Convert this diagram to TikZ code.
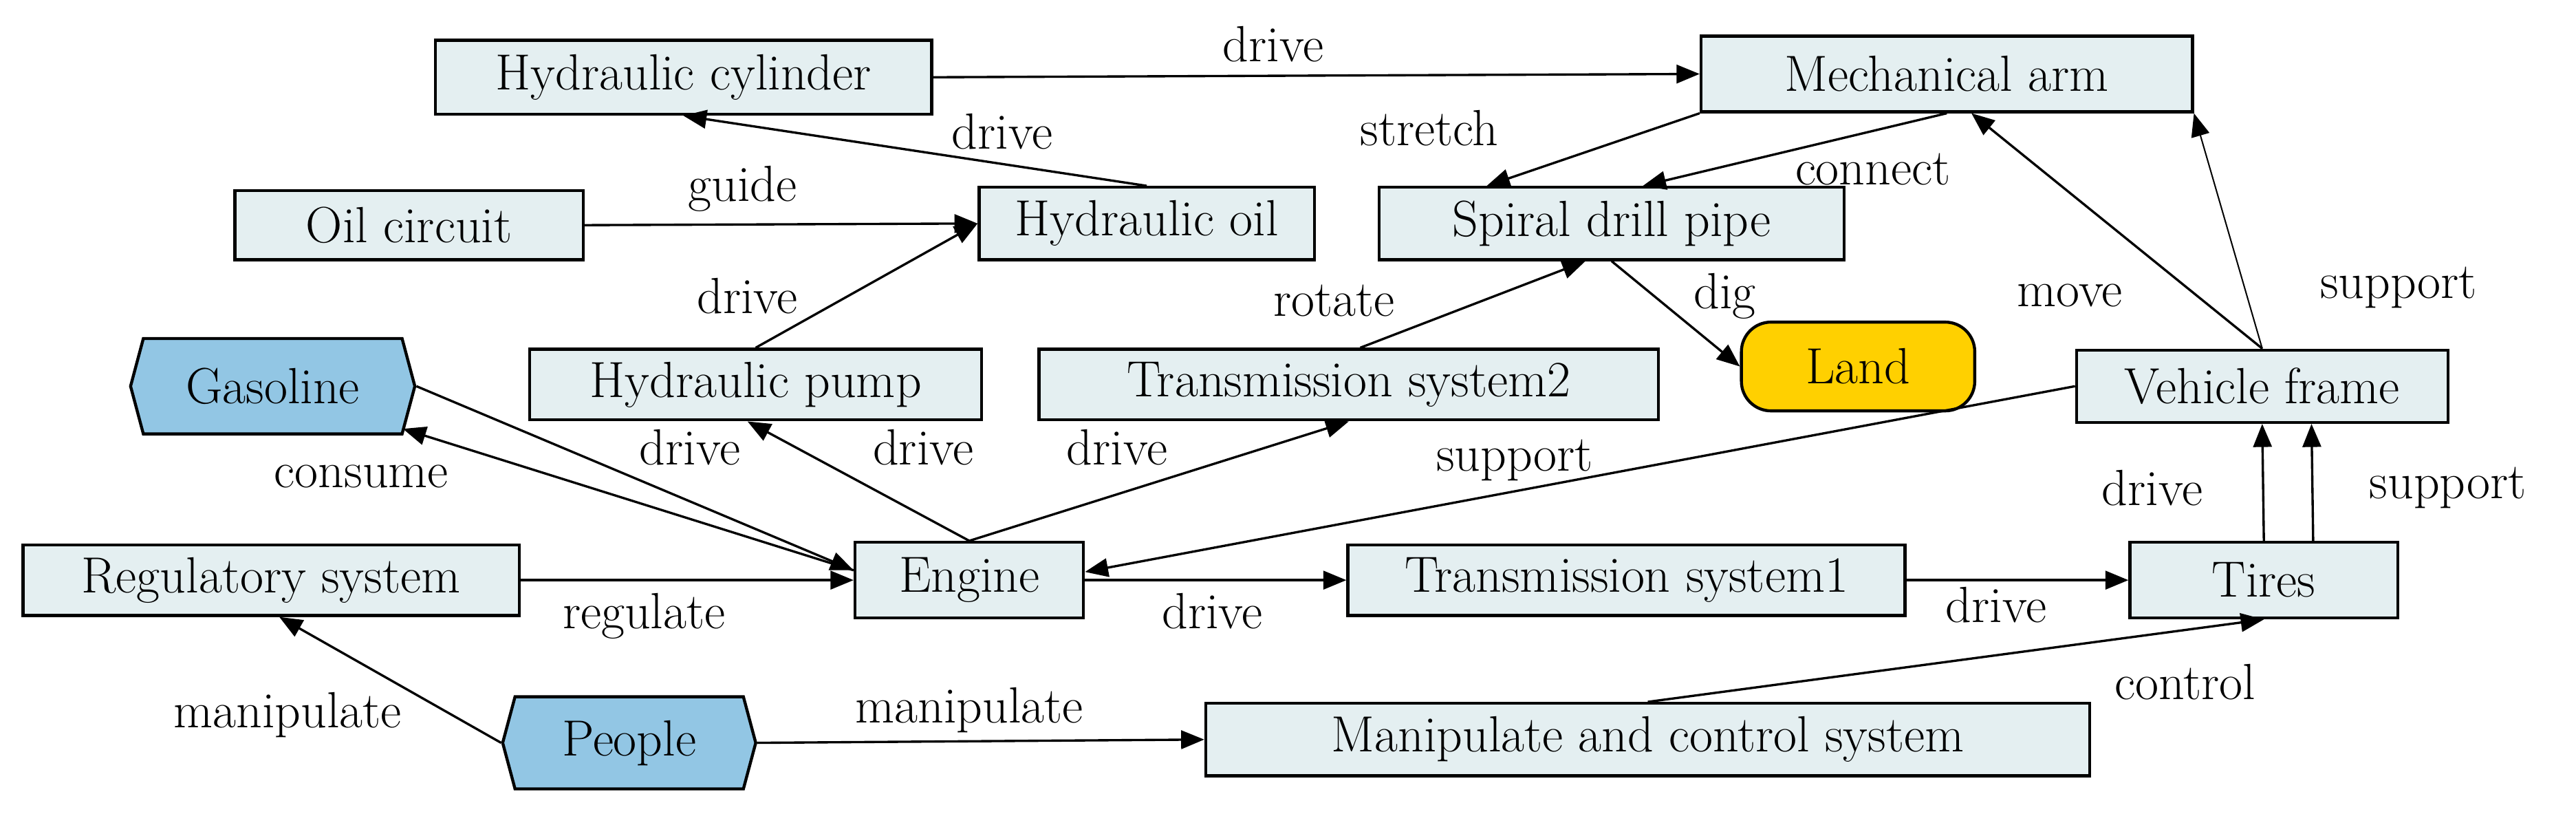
\documentclass[tikz,border=0pt]{standalone}
\usetikzlibrary{arrows.meta,shapes.symbols}
\definecolor{boxfill}{HTML}{E4EFF1}
\definecolor{hexfill}{HTML}{92C6E4}
\definecolor{landfill}{HTML}{FFD000}
\begin{document}
\begin{tikzpicture}[x=0.025cm,y=-0.025cm,
  every node/.style={font=\fontsize{22}{24}\selectfont, inner sep=0pt},
  box/.style={draw, fill=boxfill, line width=1.3pt},
  hex/.style={draw, fill=hexfill, line width=1.3pt, signal, signal to=east and west, signal pointer angle=150},
  lbl/.style={},
  arr/.style={line width=1pt, -{Triangle[length=10pt,width=8pt]}},
  thinarr/.style={line width=0.6pt, -{Triangle[length=10pt,width=8pt]}}]
\useasboundingbox (0,0) rectangle (1568,495);
\node[box, minimum width=7.55cm, minimum height=1.125cm] (cyl) at (416,47) {Hydraulic cylinder};
\node[box, minimum width=7.475cm, minimum height=1.15cm] (arm) at (1185,45) {Mechanical arm};
\node[box, minimum width=5.3cm, minimum height=1.05cm] (oilc) at (249,137) {Oil circuit};
\node[box, minimum width=5.1cm, minimum height=1.1cm] (oil) at (698,136) {Hydraulic oil};
\node[box, minimum width=7.075cm, minimum height=1.1cm] (pipe) at (981,136) {Spiral drill pipe};
\node[hex, minimum width=4.325cm, minimum height=1.45cm] (gas) at (166,235) {Gasoline};
\node[box, minimum width=6.875cm, minimum height=1.075cm] (pump) at (460,234) {Hydraulic pump};
\node[box, minimum width=9.425cm, minimum height=1.075cm] (ts2) at (821,234) {Transmission system2};
\node[draw, fill=landfill, line width=1.3pt, rounded corners=0.45cm, minimum width=3.55cm, minimum height=1.35cm] (land) at (1131,223) {Land};
\node[box, minimum width=5.65cm, minimum height=1.1cm] (frame) at (1377,235) {Vehicle frame};
\node[box, minimum width=7.55cm, minimum height=1.075cm] (reg) at (165,353) {Regulatory system};
\node[box, minimum width=3.475cm, minimum height=1.15cm] (eng) at (590,353) {Engine};
\node[box, minimum width=8.475cm, minimum height=1.075cm] (ts1) at (990,353) {Transmission system1};
\node[box, minimum width=4.075cm, minimum height=1.15cm] (tires) at (1378,353) {Tires};
\node[hex, minimum width=3.85cm, minimum height=1.4cm] (people) at (383,452) {People};
\node[box, minimum width=13.45cm, minimum height=1.1cm] (msys) at (1003,450) {Manipulate and control system};

\draw[arr] (cyl.east) -- (arm.west);
\draw[arr] (oil.north) -- (cyl.south);
\draw[arr] (oilc.east) -- (oil.west);
\draw[arr] (pump.north) -- (oil.west);
\draw[arr] (arm.south west) -- ([xshift=-1.9cm]pipe.north);
\draw[arr] (arm.south) -- ([xshift=0.475cm]pipe.north);
\draw[arr] ([xshift=0.175cm]ts2.north) -- ([xshift=-0.4cm]pipe.south);
\draw[arr] (pipe.south) -- (land.west);
\draw[arr] (frame.north) -- ([xshift=0.375cm]arm.south);
\draw[thinarr] (frame.north) -- (arm.south east);
\draw[arr] (gas.east) -- ([yshift=0.15cm]eng.west);
\draw[arr] ([yshift=0.15cm]eng.west) -- ([xshift=1.98cm,yshift=0.1cm]gas.south);
\draw[arr] (eng.north) -- ([xshift=-0.125cm]pump.south);
\draw[arr] (eng.north) -- (ts2.south);
\draw[arr] (frame.west) -- ([yshift=0.125cm]eng.east);
\draw[arr] (reg.east) -- (eng.west);
\draw[arr] (eng.east) -- (ts1.west);
\draw[arr] (ts1.east) -- (tires.west);
\draw[arr] (tires.north) -- (frame.south);
\draw[arr] ([xshift=0.75cm]tires.north) -- ([xshift=0.75cm]frame.south);
\draw[arr] (people.west) -- ([xshift=0.125cm]reg.south);
\draw[arr] (people.east) -- (msys.west);
\draw[arr] (msys.north) -- (tires.south);

\node[lbl] (l1) at (775,27) {drive};
\node[lbl] (l2) at (610,80) {drive};
\node[lbl] (l3) at (452,115) {guide};
\node[lbl] (l4) at (455,180) {drive};
\node[lbl] (l5) at (870,78) {stretch};
\node[lbl] (l6) at (1140,103) {connect};
\node[lbl] (l7) at (812,183) {rotate};
\node[lbl] (l8) at (1050,180) {dig};
\node[lbl] (l9) at (1260,180) {move};
\node[lbl] (l10) at (1460,175) {support};
\node[lbl] (l11) at (220,290) {consume};
\node[lbl] (l12) at (420,272) {drive};
\node[lbl] (l13) at (562,272) {drive};
\node[lbl] (l14) at (680,272) {drive};
\node[lbl] (l15) at (922,280) {support};
\node[lbl] (l16) at (392,375) {regulate};
\node[lbl] (l17) at (738,372) {drive};
\node[lbl] (l18) at (1215,368) {drive};
\node[lbl] (l19) at (1310,297) {drive};
\node[lbl] (l20) at (1490,297) {support};
\node[lbl] (l21) at (175,435) {manipulate};
\node[lbl] (l22) at (590,432) {manipulate};
\node[lbl] (l23) at (1330,415) {control};
\end{tikzpicture}
\end{document}
